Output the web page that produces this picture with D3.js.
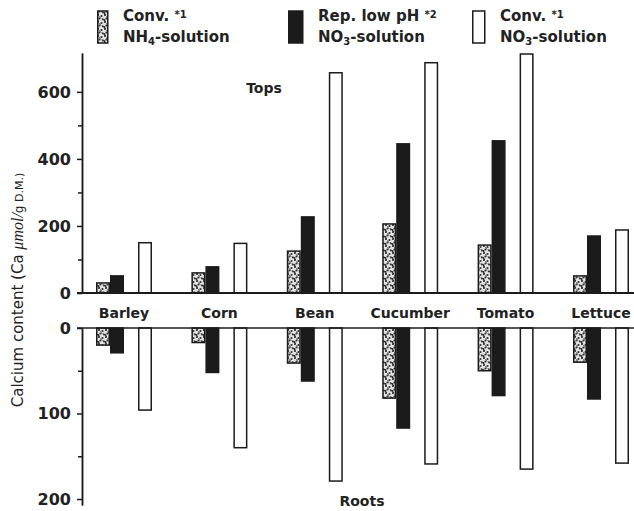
<!DOCTYPE html>
<html>
<head>
<meta charset="utf-8">
<script src="https://cdn.jsdelivr.net/npm/d3@7"></script>
<style>
  body { margin: 0; background: #fff; }
  text { fill: #222; }
</style>
</head>
<body>
<div id="chart"></div>
<script>
// categories and values (Ca, umol/g D.M.)
var categories = ["Barley", "Corn", "Bean", "Cucumber", "Tomato", "Lettuce"];
var topNH4    = [30, 60, 125, 206, 143, 51];
var topLowPH  = [51, 78, 227, 445, 454, 170];
var topNO3    = [150, 148, 657, 687, 713, 188];
var rootNH4   = [20, 17, 41, 82, 50, 40];
var rootLowPH = [29, 52, 62, 117, 79, 83];
var rootNO3   = [96, 140, 179, 159, 165, 158];
var topTicks = [0, 200, 400, 600];
var topMinor = [100, 300, 500];
var rootTicks = [0, 100, 200];
var rootMinor = [50, 150];

var width = 634, height = 511;
var tickFont = "DejaVu Sans";

var svg = d3.select("#chart").append("svg")
    .attr("width", width)
    .attr("height", height);

// stipple pattern for the NH4 bars
var defs = svg.append("defs");
var pat = defs.append("pattern")
    .attr("id", "stipple")
    .attr("patternUnits", "userSpaceOnUse")
    .attr("width", 7).attr("height", 7);
pat.append("rect").attr("width", 7).attr("height", 7).attr("fill", "#e4e4e4");
[[1, 1], [4.5, 2], [2.5, 4.5], [6, 5.5], [0.5, 6]].forEach(function (p) {
    pat.append("circle").attr("cx", p[0]).attr("cy", p[1]).attr("r", 1.1).attr("fill", "#333");
});
pat.append("path").attr("d", "M2,2.5 L4,3.5 M5,4 L5.5,6").attr("stroke", "#444").attr("stroke-width", 0.8);

// scales
var x = d3.scaleBand().domain(categories).range([96, 96 + 6 * 95.4]);
var slot = d3.scaleBand().domain([0, 1, 2, 3]).range([0, 56]);
var yTop = d3.scaleLinear().domain([0, 716]).range([293, 53]);
var yRoot = d3.scaleLinear().domain([0, 207]).range([328, 505]);

var series = [
    { slot: 0, top: topNH4, root: rootNH4, fill: "url(#stipple)" },
    { slot: 1, top: topLowPH, root: rootLowPH, fill: "#1b1b1b" },
    { slot: 3, top: topNO3, root: rootNO3, fill: "#fff" }
];

// bars
series.forEach(function (s) {
    svg.append("g").selectAll("rect")
        .data(categories)
        .enter().append("rect")
        .attr("x", function (d) { return x(d) + slot(s.slot) + 0.75; })
        .attr("y", function (d, i) { return yTop(s.top[i]); })
        .attr("width", slot.bandwidth() - 1.5)
        .attr("height", function (d, i) { return yTop(0) - yTop(s.top[i]); })
        .attr("fill", s.fill)
        .attr("stroke", "#1b1b1b")
        .attr("stroke-width", 1.5);

    svg.append("g").selectAll("rect")
        .data(categories)
        .enter().append("rect")
        .attr("x", function (d) { return x(d) + slot(s.slot) + 0.75; })
        .attr("y", yRoot(0))
        .attr("width", slot.bandwidth() - 1.5)
        .attr("height", function (d, i) { return yRoot(s.root[i]) - yRoot(0); })
        .attr("fill", s.fill)
        .attr("stroke", "#1b1b1b")
        .attr("stroke-width", 1.5);
});

// baselines of the two panels
svg.append("line").attr("x1", 77).attr("x2", width)
    .attr("y1", yTop(0)).attr("y2", yTop(0))
    .attr("stroke", "#1b1b1b").attr("stroke-width", 2);
svg.append("line").attr("x1", 77).attr("x2", width)
    .attr("y1", yRoot(0)).attr("y2", yRoot(0))
    .attr("stroke", "#1b1b1b").attr("stroke-width", 1.5);

// axes
function styleAxis(g) {
    g.selectAll("path, line").attr("stroke", "#1b1b1b").attr("stroke-width", 1.5);
    g.selectAll("text")
        .style("font-family", tickFont)
        .style("font-weight", "bold")
        .style("font-size", "16px")
        .attr("fill", "#222");
}
var axisX = 82;
svg.append("g").attr("transform", "translate(" + axisX + ",0)")
    .call(d3.axisLeft(yTop).tickValues(topTicks).tickSize(5).tickSizeOuter(0).tickPadding(6))
    .call(styleAxis);
svg.append("g").attr("transform", "translate(" + axisX + ",0)")
    .call(d3.axisLeft(yTop).tickValues(topMinor).tickSize(4).tickSizeOuter(0).tickFormat(""))
    .call(styleAxis);
svg.append("g").attr("transform", "translate(" + axisX + ",0)")
    .call(d3.axisLeft(yRoot).tickValues(rootTicks).tickSize(5).tickSizeOuter(0).tickPadding(6))
    .call(styleAxis);
svg.append("g").attr("transform", "translate(" + axisX + ",0)")
    .call(d3.axisLeft(yRoot).tickValues(rootMinor).tickSize(4).tickSizeOuter(0).tickFormat(""))
    .call(styleAxis);

// category labels in the strip between panels
svg.append("g").selectAll("text")
    .data(categories)
    .enter().append("text")
    .attr("x", function (d) { return x(d) + 28; })
    .attr("y", 318)
    .attr("text-anchor", "middle")
    .style("font-family", tickFont)
    .style("font-weight", "bold")
    .style("font-size", "14px")
    .text(function (d) { return d; });

// panel names
svg.append("text").attr("x", 264).attr("y", 93).attr("text-anchor", "middle")
    .style("font-family", tickFont).style("font-weight", "bold").style("font-size", "14px")
    .text("Tops");
svg.append("text").attr("x", 362).attr("y", 506).attr("text-anchor", "middle")
    .style("font-family", tickFont).style("font-weight", "bold").style("font-size", "14px")
    .text("Roots");

// y title
var title = svg.append("text")
    .attr("transform", "translate(23,290) rotate(-90)")
    .attr("text-anchor", "middle")
    .style("font-family", "DejaVu Sans")
    .style("font-size", "15px")
    .attr("fill", "#222");
title.append("tspan").text("Calcium content (Ca ");
title.append("tspan").style("font-family", "Liberation Serif").style("font-style", "italic")
    .style("font-size", "16px").text("\u03bcmol/");
title.append("tspan").style("font-size", "12px").text("g");
title.append("tspan").style("font-size", "11px").text(" D.M.)");

// legend
var legend = [
    { x: 97, fill: "url(#stipple)", w: 10, l1: "Conv. ", sup: "*1", l2: "NH", sub: "4" },
    { x: 288, fill: "#1b1b1b", w: 14, l1: "Rep. low pH ", sup: "*2", l2: "NO", sub: "3" },
    { x: 472, fill: "#fff", w: 12, l1: "Conv. ", sup: "*1", l2: "NO", sub: "3" }
];
legend.forEach(function (d) {
    var g = svg.append("g").attr("transform", "translate(" + d.x + ",0)");
    g.append("rect").attr("x", 0.75).attr("y", 11).attr("width", d.w).attr("height", 32)
        .attr("fill", d.fill).attr("stroke", "#1b1b1b").attr("stroke-width", 1.5);
    var t1 = g.append("text").attr("x", d.w + 16).attr("y", 21)
        .style("font-family", tickFont).style("font-weight", "bold").style("font-size", "15px");
    t1.append("tspan").text(d.l1);
    t1.append("tspan").attr("dy", -3).style("font-size", "10px").text(d.sup);
    var t2 = g.append("text").attr("x", d.w + 16).attr("y", 42)
        .style("font-family", tickFont).style("font-weight", "bold").style("font-size", "15px");
    t2.append("tspan").text(d.l2);
    t2.append("tspan").attr("dy", 3).style("font-size", "10px").text(d.sub);
    t2.append("tspan").attr("dy", -3).text("-solution");
});
</script>
</body>
</html>
